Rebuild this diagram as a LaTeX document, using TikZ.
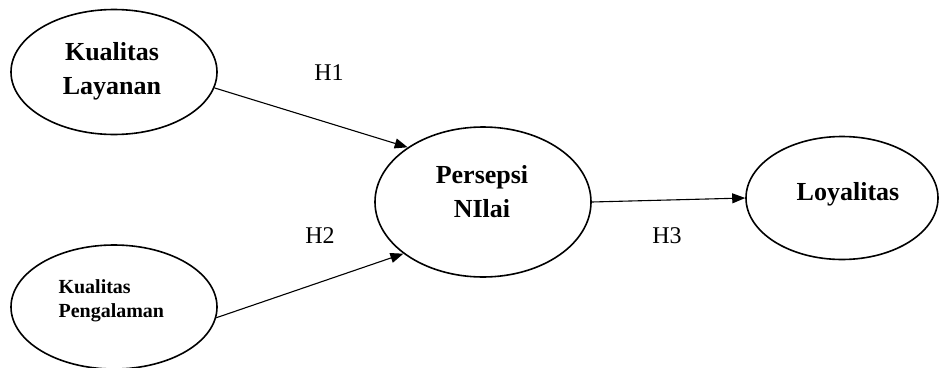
\documentclass[tikz,border=0pt]{standalone}
\usepackage{fontspec}
\setmainfont{Liberation Serif}
\usetikzlibrary{shapes.geometric,arrows.meta}
\begin{document}
\begin{tikzpicture}[x=1pt,y=-1pt,
  var/.style={draw,ellipse,line width=1.6pt,inner sep=0pt},
  big/.style={font=\fontsize{26}{34}\selectfont\bfseries,align=center,anchor=base},
  small/.style={font=\fontsize{20}{24}\selectfont\bfseries,align=left,anchor=base west},
  hyp/.style={font=\fontsize{24}{28}\selectfont,anchor=base},
  arr/.style={line width=1.1pt,-{Triangle[length=13pt,width=10pt]}}]
\useasboundingbox (0,0) rectangle (940,367);
\node[var,minimum width=206pt,minimum height=125pt] (kl) at (114,72) {};
\node[var,minimum width=206pt,minimum height=124pt] (kp) at (114,307) {};
\node[var,minimum width=216pt,minimum height=150pt] (pn) at (483,202) {};
\node[var,minimum width=192pt,minimum height=123pt] (lo) at (842,198) {};
\node[big] (tkl) at (112,94) {Kualitas\\Layanan};
\node[small] (tkp) at (55,317) {Kualitas\\Pengalaman};
\node[big] (tpn) at (482,217) {Persepsi\\NIlai};
\node[big] (tlo) at (848,200) {Loyalitas};
\node[hyp] (h1) at (329,80) {H1};
\node[hyp] (h2) at (320,243) {H2};
\node[hyp] (h3) at (667,243) {H3};
\draw[arr] (kl.-9) -- (pn.144.6);
\draw[arr] (kp.-6) -- (pn.213.2);
\draw[arr] (pn.east) -- (lo.west);
\end{tikzpicture}
\end{document}
